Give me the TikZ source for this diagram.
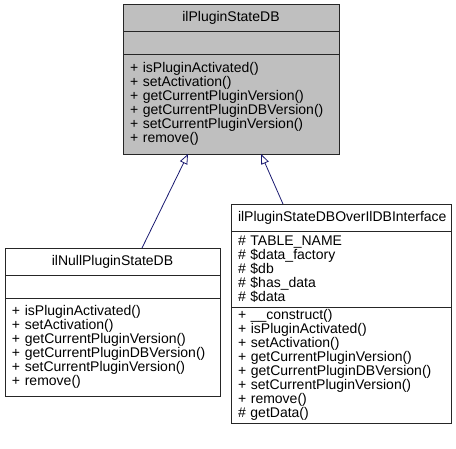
\documentclass[tikz,border=0pt]{standalone}
\usepackage{fontspec}
\setmainfont{Liberation Sans}
\usetikzlibrary{positioning,arrows.meta}
\definecolor{edgeblue}{HTML}{191970}
\definecolor{basegray}{HTML}{BFBFBF}
\newcommand{\umlfont}{\fontsize{14}{14}\selectfont}

\begin{document}
\begin{tikzpicture}[x=1pt,y=-1pt,
  part/.style={draw=black!85,line width=1pt,outer sep=0pt,inner xsep=7pt,inner ysep=0pt,
    text width=#1,align=left,font=\umlfont},
  head/.style={part=#1,align=center,minimum height=27pt},
  blank/.style={part=#1,minimum height=23pt},
  inh/.style={edgeblue,line width=0.8pt,{Triangle[open,length=10pt,width=8pt]}-},
  node distance=0pt]
  \useasboundingbox (0,0) rectangle (456,448);
  % base class
  \node[head=202pt,fill=basegray,anchor=north west] (baseT) at (123,4) {ilPluginStateDB};
  \node[blank=202pt,fill=basegray,below=of baseT] (baseA) {};
  \node[part=202pt,fill=basegray,minimum height=100pt,below=of baseA] (baseM)
    {+ isPluginActivated()\\+ setActivation()\\+ getCurrentPluginVersion()\\+ getCurrentPluginDBVersion()\\+ setCurrentPluginVersion()\\+ remove()};
  % null implementation
  \node[head=201pt,anchor=north west] (nullT) at (5,248) {ilNullPluginStateDB};
  \node[blank=201pt,below=of nullT] (nullA) {};
  \node[part=201pt,minimum height=98pt,below=of nullA] (nullM)
    {+ isPluginActivated()\\+ setActivation()\\+ getCurrentPluginVersion()\\+ getCurrentPluginDBVersion()\\+ setCurrentPluginVersion()\\+ remove()};
  % db implementation
  \node[head=206pt,anchor=north west] (dbT) at (231,204) {ilPluginStateDBOverIlDBInterface};
  \node[part=206pt,minimum height=76pt,below=of dbT] (dbA)
    {\# TABLE\_NAME\\\# \$data\_factory\\\# \$db\\\# \$has\_data\\\# \$data};
  \node[part=206pt,minimum height=116pt,below=of dbA] (dbM)
    {+ \_\_construct()\\+ isPluginActivated()\\+ setActivation()\\+ getCurrentPluginVersion()\\+ getCurrentPluginDBVersion()\\+ setCurrentPluginVersion()\\+ remove()\\\# getData()};
  % generalisation
  \draw[inh] ([xshift=-43pt]baseM.south) -- ([xshift=29.5pt]nullT.north);
  \draw[inh] ([xshift=30pt]baseM.south) -- ([xshift=-58pt]dbT.north);
\end{tikzpicture}
\end{document}
